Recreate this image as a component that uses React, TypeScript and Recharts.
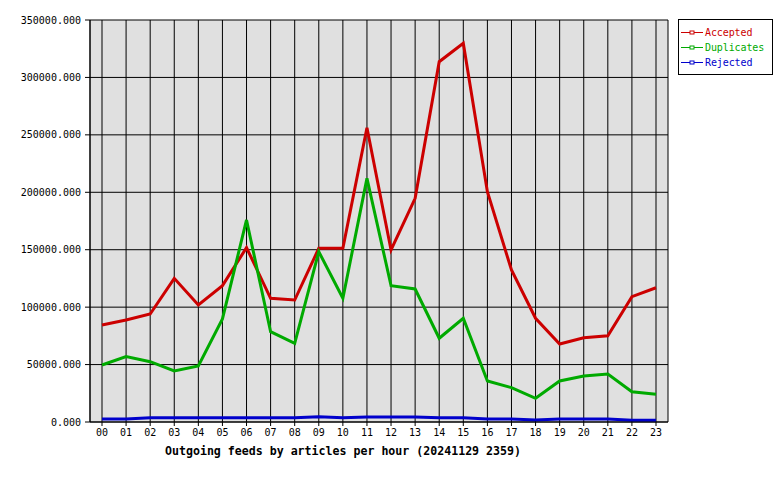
import React from 'react';
import { LineChart, Line, XAxis, YAxis, CartesianGrid, Legend } from 'recharts';

const hours = ['00', '01', '02', '03', '04', '05', '06', '07', '08', '09', '10', '11',
  '12', '13', '14', '15', '16', '17', '18', '19', '20', '21', '22', '23'];

const accepted = [84400, 88800, 94000, 125100, 101900, 118700, 151800, 107700, 106200, 151200, 151200, 256200,
  149800, 194700, 313700, 329700, 200500, 132300, 90300, 67900, 73400, 75100, 109100, 116900];

const duplicates = [49600, 56900, 52500, 44400, 48800, 89700, 175900, 78600, 68500, 148300, 107700, 212100,
  118700, 115800, 72900, 90300, 35700, 29900, 20600, 35700, 40000, 41800, 26400, 24100];

const rejected = [2600, 2600, 3700, 3700, 3700, 3700, 3700, 3700, 3700, 4600, 3700, 4300,
  4300, 4300, 3600, 3600, 2600, 2600, 1700, 2600, 2600, 2600, 1600, 1500];

const yTicks = [0, 50000, 100000, 150000, 200000, 250000, 300000, 350000];

const series = [
  { key: 'Accepted', color: '#cc0000' },
  { key: 'Duplicates', color: '#00aa00' },
  { key: 'Rejected', color: '#0000cc' },
];

const FONT = '"DejaVu Sans Mono", monospace';

const data = hours.map((h, i) => ({
  hour: h,
  Accepted: accepted[i],
  Duplicates: duplicates[i],
  Rejected: rejected[i],
}));

// boxed legend, top right, like the original rrd-style graph
const LegendBox = ({ payload }: any) => (
  <div
    style={{
      width: 93,
      height: 49,
      border: '1px solid #000',
      background: '#fff',
      fontFamily: FONT,
      fontSize: 10,
      paddingTop: 5,
      boxSizing: 'content-box',
    }}
  >
    {(payload || []).map((entry: any) => (
      <div key={entry.value} style={{ display: 'flex', alignItems: 'center', height: 15, lineHeight: '15px' }}>
        <svg width={24} height={15} style={{ marginLeft: 2 }}>
          <line x1={0} y1={7.5} x2={22} y2={7.5} stroke={entry.color} strokeWidth={1} />
          <rect x={9} y={6} width={4} height={3} fill="#fff" stroke={entry.color} strokeWidth={1} />
        </svg>
        <span style={{ color: entry.color, letterSpacing: -0.1 }}>{entry.value}</span>
      </div>
    ))}
  </div>
);

export default function App() {
  return (
    <div style={{ position: 'absolute', left: 0, top: 0, width: 780, height: 480, background: '#fff' }}>
      <LineChart width={780} height={480} data={data} margin={{ top: 20, right: 112, left: 0, bottom: 28 }}>
        <CartesianGrid stroke="#000" fill="#e0e0e0" fillOpacity={1} />
        <XAxis
          dataKey="hour"
          padding={{ left: 12, right: 12 }}
          height={30}
          interval={0}
          tickSize={4}
          tickMargin={3}
          axisLine={{ stroke: '#000' }}
          tickLine={{ stroke: '#000' }}
          tick={{ fill: '#000', fontSize: 10, fontFamily: FONT }}
        />
        <YAxis
          width={90}
          domain={[0, 350000]}
          ticks={yTicks}
          interval={0}
          tickSize={5}
          tickMargin={4}
          tickFormatter={(v: number) => v.toFixed(3)}
          axisLine={{ stroke: '#000' }}
          tickLine={{ stroke: '#000' }}
          tick={{ fill: '#000', fontSize: 10, fontFamily: FONT }}
        />
        <YAxis
          yAxisId="right"
          orientation="right"
          width={0}
          domain={[0, 1]}
          tick={false}
          tickLine={false}
          axisLine={{ stroke: '#000' }}
        />
        <Legend
          layout="vertical"
          align="center"
          verticalAlign="middle"
          content={<LegendBox />}
          wrapperStyle={{ position: 'absolute', left: 678, top: 19, width: 95, height: 56 }}
        />
        {series.map((s) => (
          <Line
            key={s.key}
            type="linear"
            dataKey={s.key}
            stroke={s.color}
            strokeWidth={3}
            dot={false}
            isAnimationActive={false}
          />
        ))}
      </LineChart>
      <div
        style={{
          position: 'absolute',
          left: 165,
          top: 444,
          fontFamily: FONT,
          fontSize: 11.6,
          fontWeight: 'bold',
          whiteSpace: 'nowrap',
        }}
      >
        Outgoing feeds by articles per hour (20241129 2359)
      </div>
    </div>
  );
}
